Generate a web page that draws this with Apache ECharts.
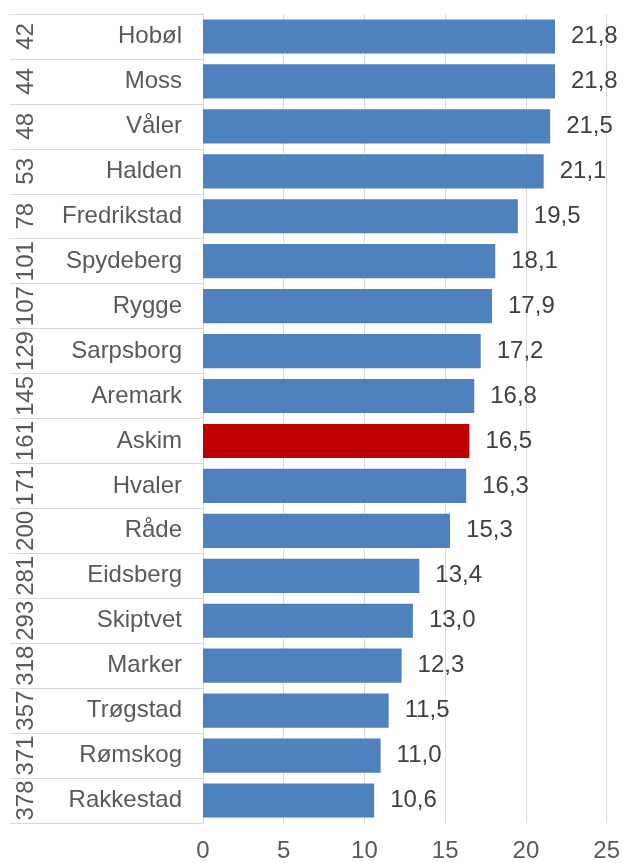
<!DOCTYPE html>
<html>
<head>
<meta charset="utf-8">
<script src="https://cdn.jsdelivr.net/npm/echarts@6/dist/echarts.min.js"></script>
<style>html,body{margin:0;padding:0;background:#fff}#c{width:623px;height:863px}</style>
</head>
<body>
<div id="c"></div>
<script>
const names = ["Hobøl","Moss","Våler","Halden","Fredrikstad","Spydeberg","Rygge","Sarpsborg","Aremark","Askim","Hvaler","Råde","Eidsberg","Skiptvet","Marker","Trøgstad","Rømskog","Rakkestad"];
const ranks = ["42","44","48","53","78","101","107","129","145","161","171","200","281","293","318","357","371","378"];
const values = [21.8,21.8,21.5,21.1,19.5,18.1,17.9,17.2,16.8,16.5,16.3,15.3,13.4,13.0,12.3,11.5,11.0,10.6];
const highlight = "Askim";
const xTicks = [0,5,10,15,20,25];

const FONT = "Liberation Sans, Arial, sans-serif";
const FS = 24;
const chart = echarts.init(document.getElementById('c'), null, {renderer:'canvas'});
chart.setOption({
  animation:false,
  backgroundColor:'#ffffff',
  grid:{left:203,right:14,top:14,bottom:37,containLabel:false},
  xAxis:{
    type:'value', min:xTicks[0], max:xTicks[xTicks.length-1], interval:5,
    axisLine:{show:false}, axisTick:{show:false},
    splitLine:{show:true,lineStyle:{color:'#d9d9d9',width:1}},
    axisLabel:{color:'#595959',fontSize:FS,fontFamily:FONT,margin:16}
  },
  yAxis:[{
    type:'category', data:names, inverse:true,
    axisLine:{show:true,lineStyle:{color:'#d9d9d9',width:1}},
    axisTick:{show:true,length:193,interval:0,lineStyle:{color:'#d9d9d9',width:1}},
    axisLabel:{color:'#595959',fontSize:FS,fontFamily:FONT,margin:21,interval:0}
  },{
    type:'category', data:ranks, inverse:true, position:'left',
    axisLine:{show:false}, axisTick:{show:false}, splitLine:{show:false},
    axisLabel:{color:'#595959',fontSize:FS,fontFamily:FONT,rotate:90,margin:165,interval:0,hideOverlap:false}
  }],
  series:[{
    type:'bar', yAxisIndex:0,
    data: values.map((v,i)=>({value:v,itemStyle:{color: names[i]===highlight ? '#C00000' : '#4F81BD'}})),
    barCategoryGap:'24%',
    label:{show:true,position:'right',distance:16,color:'#404040',fontSize:FS,fontFamily:FONT,
      formatter:p=>p.value.toFixed(1).replace('.',',')}
  }]
});
</script>
</body>
</html>
